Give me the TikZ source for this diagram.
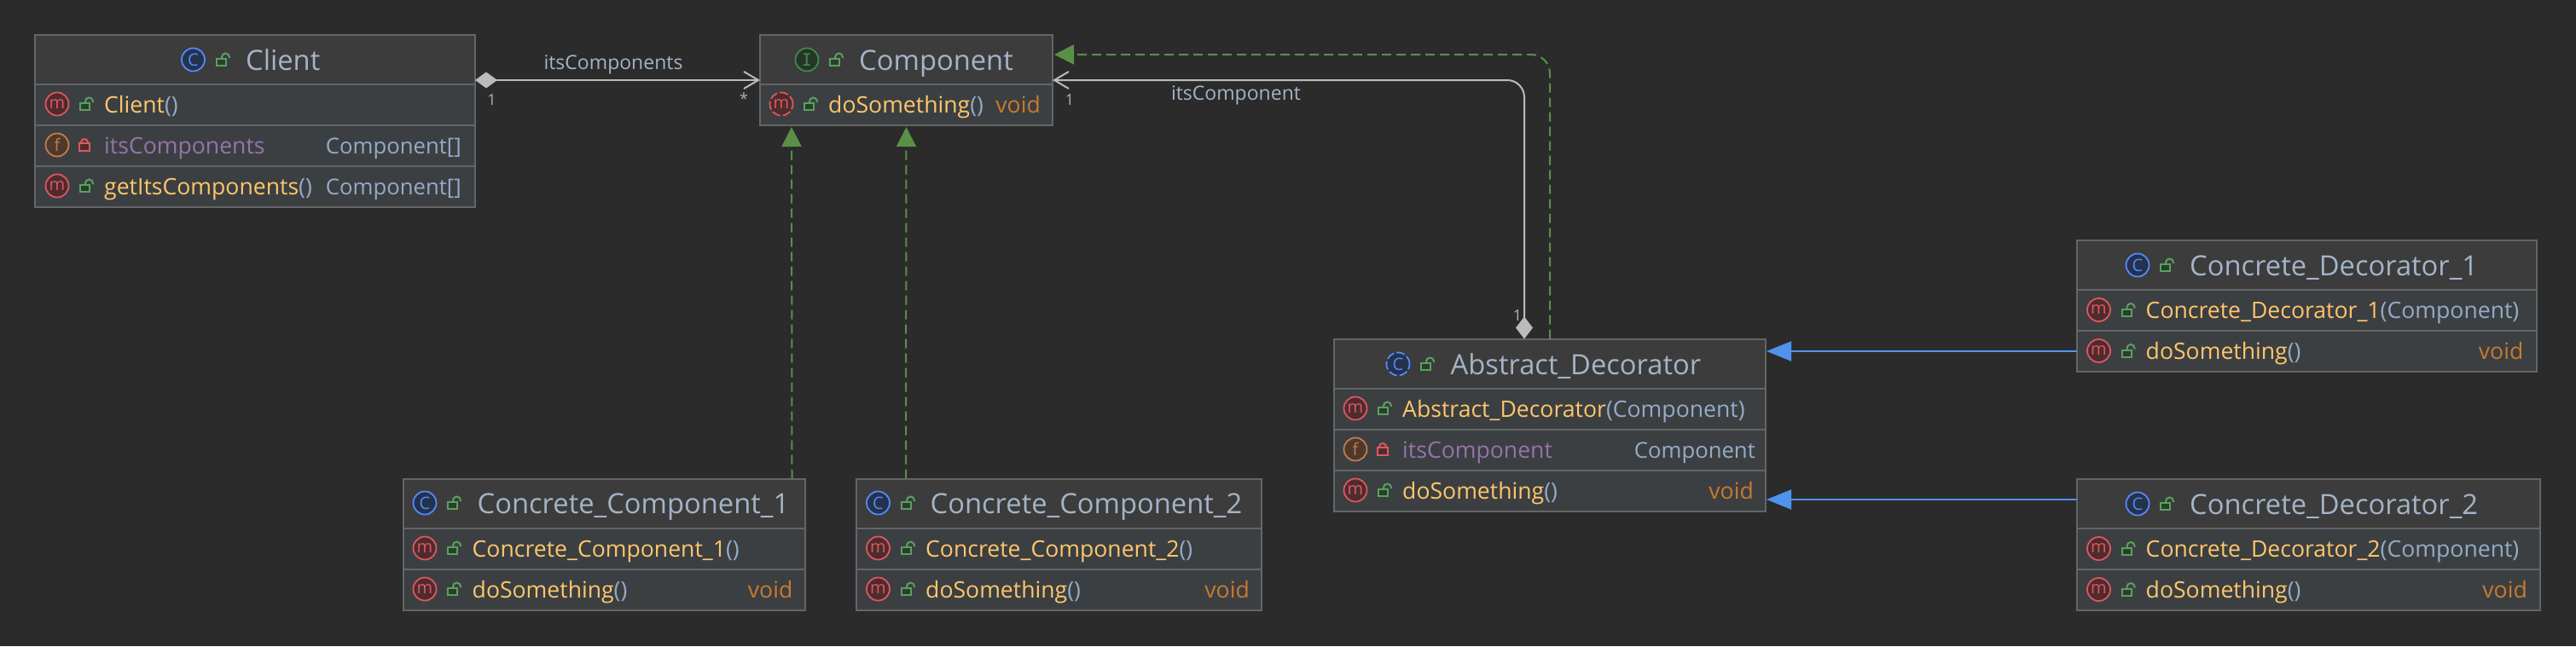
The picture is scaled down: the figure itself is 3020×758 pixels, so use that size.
\documentclass[tikz,border=0pt]{standalone}
\usepackage{fontspec}
\setmainfont{Open Sans}
\newfontfamily\iconmono{DejaVu Sans Mono}
\usepackage{tikz}
\usetikzlibrary{positioning,arrows.meta}

\definecolor{bgdark}{HTML}{2B2B2B}
\definecolor{headfill}{HTML}{3C3C3C}
\definecolor{rowfill}{HTML}{3C3F41}
\definecolor{boxline}{HTML}{636566}
\definecolor{titlec}{HTML}{A4B4C8}
\definecolor{typec}{HTML}{94ABC8}
\definecolor{methodc}{HTML}{FFC66D}
\definecolor{voidc}{HTML}{C87A2E}
\definecolor{fieldc}{HTML}{9474AC}
\definecolor{edgec}{HTML}{BBBBBB}
\definecolor{realizec}{HTML}{5A8F48}
\definecolor{extendc}{HTML}{4F93EE}
\definecolor{mred}{HTML}{DB5860}
\definecolor{mfill}{HTML}{4F2B2E}
\definecolor{forange}{HTML}{C57B4B}
\definecolor{ffill}{HTML}{4E3A2C}
\definecolor{cblue}{HTML}{548AF7}
\definecolor{cfill}{HTML}{25324D}
\definecolor{igreen}{HTML}{3F8A4D}
\definecolor{ifill}{HTML}{253627}
\definecolor{lockgreen}{HTML}{59A05F}
\definecolor{lockfill}{HTML}{2B3D2B}

\newcommand{\mtd}[2]{\textcolor{methodc}{#1}\textcolor{typec}{#2}}

\begin{document}
\begin{tikzpicture}[x=1pt,y=-1pt]
  \tikzset{
    classhead/.style={draw=boxline, fill=headfill, line width=2pt, minimum height=58pt, inner sep=0pt, outer sep=0pt},
    classrow/.style={draw=boxline, fill=rowfill, line width=2pt, minimum height=48pt, inner sep=0pt, outer sep=0pt},
    titletext/.style={anchor=base west, inner sep=0pt, yshift=-12pt, text=titlec, font=\fontsize{32.7}{36}\selectfont},
    rowtext/.style={anchor=base west, inner sep=0pt, yshift=-10pt, text=methodc, font=\fontsize{26.6}{30}\selectfont},
    rowright/.style={rowtext, anchor=base east},
    rowtype/.style={rowright, text=typec, font=\fontsize{25.7}{30}\selectfont},
    edgelabel/.style={inner sep=0pt, text=titlec, font=\fontsize{23}{28}\selectfont},
    mult/.style={inner sep=0pt, text=titlec, font=\fontsize{18}{20}\selectfont},
    icon/.style={circle, line width=1.8pt, minimum size=27pt, inner sep=0pt, font=\fontsize{20}{22}\selectfont},
    iconm/.style={icon, draw=mred, fill=mfill, text=mred},
    iconf/.style={icon, draw=forange, fill=ffill, text=forange},
    iconc/.style={icon, draw=cblue, fill=cfill, text=cblue},
    iconi/.style={icon, draw=igreen, fill=ifill, text=igreen, font=\iconmono\fontsize{20}{22}\selectfont},
    iconabs/.style={dash pattern=on 10pt off 3pt},
    lockopen/.pic={
      \draw[lockgreen, line width=2pt] (-1,-1) -- (-1,-3) arc[start angle=180, end angle=360, radius=4.5] -- (8,-2);
      \draw[lockgreen, fill=lockfill, line width=2pt] (-7,-1) rectangle (4,7);
    },
    lockshut/.pic={
      \draw[mred, line width=2pt] (-4,-2) -- (-4,-3) arc[start angle=180, end angle=360, radius=4] -- (4,-2);
      \draw[mred, fill=mfill, line width=2pt] (-6,-2) rectangle (6,7);
    },
    compose/.style={edgec, line width=2.5pt, {Diamond[length=26pt, width=19pt]}-{Straight Barb[length=17pt, width=20pt, line width=2pt]}},
    composeup/.style={edgec, line width=2pt, rounded corners=20pt, {Diamond[length=26pt, width=20pt]}-{Straight Barb[length=17pt, width=20pt, line width=2pt]}},
    realize/.style={realizec, line width=2pt, dash pattern=on 11pt off 6pt, shorten >=2pt, -{Triangle[length=23pt, width=23pt]}},
    extend/.style={extendc, line width=2pt, shorten >=1pt, -{Triangle[length=29pt, width=23pt]}}
  }

  \useasboundingbox (0,0) rectangle (3020,758);
  \fill[bgdark] (0,0) rectangle (3020,758);

  % class boxes
  \node[classhead, anchor=north west, minimum width=516pt] (clienthead) at (41,41) {};
  \node[classrow, below=0pt of clienthead, minimum width=516pt] (clientrowa) {};
  \node[classrow, below=0pt of clientrowa, minimum width=516pt] (clientrowb) {};
  \node[classrow, below=0pt of clientrowb, minimum width=516pt] (clientrowc) {};

  \node[classhead, anchor=north west, minimum width=343pt] (componenthead) at (891,41) {};
  \node[classrow, below=0pt of componenthead, minimum width=343pt] (componentrow) {};

  \node[classhead, anchor=north west, minimum width=471pt] (cconehead) at (473,561.5) {};
  \node[classrow, below=0pt of cconehead, minimum width=471pt] (cconerowa) {};
  \node[classrow, below=0pt of cconerowa, minimum width=471pt] (cconerowb) {};

  \node[classhead, anchor=north west, minimum width=475pt] (cctwohead) at (1004,561.5) {};
  \node[classrow, below=0pt of cctwohead, minimum width=475pt] (cctworowa) {};
  \node[classrow, below=0pt of cctworowa, minimum width=475pt] (cctworowb) {};

  \node[classhead, anchor=north west, minimum width=506pt] (adhead) at (1564,397.5) {};
  \node[classrow, below=0pt of adhead, minimum width=506pt] (adrowa) {};
  \node[classrow, below=0pt of adrowa, minimum width=506pt] (adrowb) {};
  \node[classrow, below=0pt of adrowb, minimum width=506pt] (adrowc) {};

  \node[classhead, anchor=north west, minimum width=539pt] (cdonehead) at (2434.5,282) {};
  \node[classrow, below=0pt of cdonehead, minimum width=539pt] (cdonerowa) {};
  \node[classrow, below=0pt of cdonerowa, minimum width=539pt] (cdonerowb) {};

  \node[classhead, anchor=north west, minimum width=543pt] (cdtwohead) at (2434.5,562) {};
  \node[classrow, below=0pt of cdtwohead, minimum width=543pt] (cdtworowa) {};
  \node[classrow, below=0pt of cdtworowa, minimum width=543pt] (cdtworowb) {};

  % Client
  \node[iconc] (clienticon) at (226.5,70) {C};
  \pic at (261,70) {lockopen};
  \node[titletext] (clientname) at (288,70) {Client};
  \node[iconm] (clientma) at (67,122) {m};
  \pic at (101,122) {lockopen};
  \node[rowtext] (clientctor) at (122,122) {\mtd{Client}{()}};
  \node[iconf] (clientfb) at (67,170) {f};
  \pic at (99,170) {lockshut};
  \node[rowtext, text=fieldc] (clientfield) at (122,170) {itsComponents};
  \node[rowtype] (clientfieldtype) at (541,170) {Component[]};
  \node[iconm] (clientmc) at (67,218) {m};
  \pic at (101,218) {lockopen};
  \node[rowtext] (clientgetter) at (122,218) {\mtd{getItsComponents}{()}};
  \node[rowtype] (clientgettertype) at (541,218) {Component[]};

  % Component
  \node[iconi] (componenticon) at (946,70) {I};
  \pic at (980,70) {lockopen};
  \node[titletext] (componentname) at (1007,70) {Component};
  \node[iconm, iconabs] (componentm) at (916,122) {m};
  \pic at (950,122) {lockopen};
  \node[rowtext] (componentdo) at (971,122) {\mtd{doSomething}{()}};
  \node[rowright, text=voidc] (componentvoid) at (1220,122) {void};

  % Concrete_Component_1
  \node[iconc] (cconeicon) at (498,590) {C};
  \pic at (532,590) {lockopen};
  \node[titletext] (cconename) at (559.5,590) {Concrete\_Component\_1};
  \node[iconm] (cconema) at (498,643) {m};
  \pic at (532,643) {lockopen};
  \node[rowtext] (cconector) at (553.5,643) {\mtd{Concrete\_Component\_1}{()}};
  \node[iconm] (cconemb) at (498,691) {m};
  \pic at (532,691) {lockopen};
  \node[rowtext] (cconedo) at (553.5,691) {\mtd{doSomething}{()}};
  \node[rowright, text=voidc] (cconevoid) at (929.5,691) {void};

  % Concrete_Component_2
  \node[iconc] (cctwoicon) at (1029.5,590) {C};
  \pic at (1064,590) {lockopen};
  \node[titletext] (cctwoname) at (1090.5,590) {Concrete\_Component\_2};
  \node[iconm] (cctwoma) at (1029.5,643) {m};
  \pic at (1064,643) {lockopen};
  \node[rowtext] (cctwoctor) at (1085,643) {\mtd{Concrete\_Component\_2}{()}};
  \node[iconm] (cctwomb) at (1029.5,691) {m};
  \pic at (1064,691) {lockopen};
  \node[rowtext] (cctwodo) at (1085,691) {\mtd{doSomething}{()}};
  \node[rowright, text=voidc] (cctwovoid) at (1465,691) {void};

  % Abstract_Decorator
  \node[iconc, iconabs] (adicon) at (1639,427) {C};
  \pic at (1673,427) {lockopen};
  \node[titletext] (adname) at (1700.5,427) {Abstract\_Decorator};
  \node[iconm] (adma) at (1589,479) {m};
  \pic at (1623,479) {lockopen};
  \node[rowtext] (adctor) at (1644,479) {\mtd{Abstract\_Decorator}{(Component)}};
  \node[iconf] (adfb) at (1589,527) {f};
  \pic at (1621,527) {lockshut};
  \node[rowtext, text=fieldc] (adfield) at (1644,527) {itsComponent};
  \node[rowtype] (adfieldtype) at (2058,527) {Component};
  \node[iconm] (admc) at (1589,575) {m};
  \pic at (1623,575) {lockopen};
  \node[rowtext] (addo) at (1644,575) {\mtd{doSomething}{()}};
  \node[rowright, text=voidc] (advoid) at (2056,575) {void};

  % Concrete_Decorator_1
  \node[iconc] (cdoneicon) at (2506,311) {C};
  \pic at (2540,311) {lockopen};
  \node[titletext] (cdonename) at (2567,311) {Concrete\_Decorator\_1};
  \node[iconm] (cdonema) at (2460.5,363.5) {m};
  \pic at (2494.5,363.5) {lockopen};
  \node[rowtext] (cdonector) at (2515.5,363.5) {\mtd{Concrete\_Decorator\_1}{(Component)}};
  \node[iconm] (cdonemb) at (2460.5,411.5) {m};
  \pic at (2494.5,411.5) {lockopen};
  \node[rowtext] (cdonedo) at (2515.5,411.5) {\mtd{doSomething}{()}};
  \node[rowright, text=voidc] (cdonevoid) at (2958.5,411.5) {void};

  % Concrete_Decorator_2
  \node[iconc] (cdtwoicon) at (2506,591) {C};
  \pic at (2540,591) {lockopen};
  \node[titletext] (cdtwoname) at (2567,591) {Concrete\_Decorator\_2};
  \node[iconm] (cdtwoma) at (2460.5,643.5) {m};
  \pic at (2494.5,643.5) {lockopen};
  \node[rowtext] (cdtwoctor) at (2515.5,643.5) {\mtd{Concrete\_Decorator\_2}{(Component)}};
  \node[iconm] (cdtwomb) at (2460.5,691.5) {m};
  \pic at (2494.5,691.5) {lockopen};
  \node[rowtext] (cdtwodo) at (2515.5,691.5) {\mtd{doSomething}{()}};
  \node[rowright, text=voidc] (cdtwovoid) at (2963,691.5) {void};

  % connectors
  \draw[compose] ([yshift=-24pt]clienthead.east) -- ([yshift=-24pt]componenthead.west);
  \draw[composeup] ([xshift=-30pt]adhead.north) |- ([yshift=-24pt]componenthead.east);
  \draw[realize, rounded corners=22pt] (adhead.north) |- ([yshift=6pt]componenthead.east);
  \draw[realize] ([xshift=220pt]cconehead.north) -- ([xshift=-134.5pt]componentrow.south);
  \draw[realize] ([xshift=-179.5pt]cctwohead.north) -- (componentrow.south);
  \draw[extend] (cdonerowb.west) -- (cdonerowb.west -| adhead.east);
  \draw[extend] ([yshift=5pt]cdtwohead.west) -- ([yshift=5pt]cdtwohead.west -| adrowc.east);

  % connector labels
  \node[edgelabel] (compslabel) at (719,76) {itsComponents};
  \node[edgelabel] (complabel) at (1449,112) {itsComponent};
  \node[mult] (compsone) at (576.5,117) {1};
  \node[mult] (compsstar) at (872,116) {*};
  \node[mult] (compone) at (1254,117) {1};
  \node[mult] (comptop) at (1779,370) {1};
\end{tikzpicture}
\end{document}
